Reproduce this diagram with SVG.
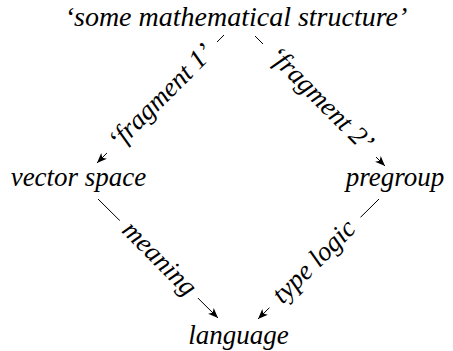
<svg xmlns="http://www.w3.org/2000/svg" width="453" height="351" viewBox="0 0 453 351">
<defs>
<marker id="arr" markerUnits="userSpaceOnUse" markerWidth="12" markerHeight="10" viewBox="0 0 12 10" refX="10" refY="5" orient="auto">
<path d="M0,1 L10,5 L0,9 L2.5,5 Z" fill="#000"/>
</marker>
</defs>
<rect width="453" height="351" fill="#fff"/>
<g id="connectors" stroke="#000" stroke-width="1" fill="none">
<path d="M224,35 L97,163" marker-end="url(#arr)"/>
<path d="M255,36 L385,166" marker-end="url(#arr)"/>
<path d="M98,199 L218,318" marker-end="url(#arr)"/>
<path d="M379,199 L258,319" marker-end="url(#arr)"/>
</g>
<g font-family="Liberation Serif" font-style="italic" font-size="27" text-anchor="middle" fill="#000">
<g id="edge-labels">
<g transform="translate(162,97.5) rotate(-45)"><rect fill="#fff" x="-78" y="-3" width="156" height="6"/><text x="0" y="7">‘fragment 1’</text></g>
<g transform="translate(320,100) rotate(45)"><rect fill="#fff" x="-80" y="-3" width="160" height="6"/><text x="0" y="7">‘fragment 2’</text></g>
<g transform="translate(158.5,259.5) rotate(45)"><rect fill="#fff" x="-55" y="-3" width="110" height="6"/><text x="0" y="7">meaning</text></g>
<g transform="translate(315,262.5) rotate(-45)"><rect fill="#fff" x="-64" y="-3" width="128" height="6"/><text x="0" y="7">type logic</text></g>
</g>
<g id="node-top"><text x="236" y="26" font-size="28">‘some mathematical structure’</text></g>
<g id="node-left"><text x="78.5" y="186">vector space</text></g>
<g id="node-right"><text x="395" y="186">pregroup</text></g>
<g id="node-bottom"><text x="238.5" y="344">language</text></g>
</g>
</svg>
